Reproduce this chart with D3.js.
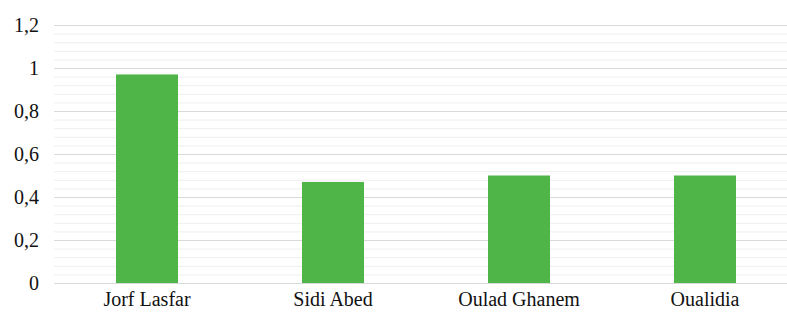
<!DOCTYPE html>
<html>
<head>
  <meta charset="utf-8">
  <style>
  body { margin: 0; background: #fff; }
  </style>
  <script src="https://d3js.org/d3.v7.min.js"></script>
</head>
<body>
<svg id="svg1"></svg>
<script>

// chart data
var sites = ["Jorf Lasfar", "Sidi Abed", "Oulad Ghanem", "Oualidia"];
var values = [0.97, 0.47, 0.5, 0.5];
var yTicks = [0, 0.2, 0.4, 0.6, 0.8, 1, 1.2];

var W = 787, H = 316;
var margin = {left: 54, right: 798, top: 25, bottom: 283};

var svg = d3.select("#svg1")
    .attr("width", W)
    .attr("height", H)
    .style("font-family", "'Times New Roman'");

var x = d3.scaleBand().domain(sites).range([margin.left, margin.right]).paddingInner(2/3).paddingOuter(1/3);
var y = d3.scaleLinear().domain([0, 1.2]).range([margin.bottom, margin.top]);

// minor gridlines
var minor = d3.range(0, 1.2001, 0.04).filter(function(v) {
  return Math.abs(v / 0.2 - Math.round(v / 0.2)) > 0.01;
});
svg.append("g")
  .attr("transform", "translate(" + margin.left + ",0)")
  .call(d3.axisLeft(y).tickValues(minor).tickSize(-(W - margin.left)).tickFormat(""))
  .call(function(g) {
    g.select(".domain").remove();
    g.selectAll("line").attr("stroke", "#eeeeee").attr("stroke-width", 1);
  });

// major gridlines + y labels
var yGroup = svg.append("g")
  .attr("transform", "translate(" + margin.left + ",0)")
  .call(d3.axisLeft(y).tickValues(yTicks).tickSize(-(W - margin.left)).tickPadding(15)
    .tickFormat(function(d) { return String(+d.toFixed(1)).replace(".", ","); }));

yGroup.attr("font-family", null).attr("font-size", null);
yGroup.select(".domain").remove();
yGroup.selectAll("line").attr("stroke", "#d9d9d9").attr("stroke-width", 1);
yGroup.selectAll("text")
  .style("font-family", "'Times New Roman'")
  .style("font-size", "20px")
  .attr("fill", "#111");

// bars
svg.selectAll(".bar")
  .data(values)
  .enter().append("rect")
    .attr("class", "bar")
    .attr("x", function(d, i) { return x(sites[i]); })
    .attr("width", x.bandwidth())
    .attr("y", function(d) { return y(d); })
    .attr("height", function(d) { return y(0) - y(d); })
    .attr("fill", "#50b548");

// x axis labels
var xGroup = svg.append("g")
  .attr("transform", "translate(0," + margin.bottom + ")")
  .call(d3.axisBottom(x).tickSize(0).tickPadding(9));
xGroup.attr("font-family", null).attr("font-size", null);
xGroup.select(".domain").remove();
xGroup.selectAll("text")
  .style("font-family", "'Times New Roman'")
  .style("font-size", "20px")
  .attr("fill", "#111");

</script>
</body>
</html>
